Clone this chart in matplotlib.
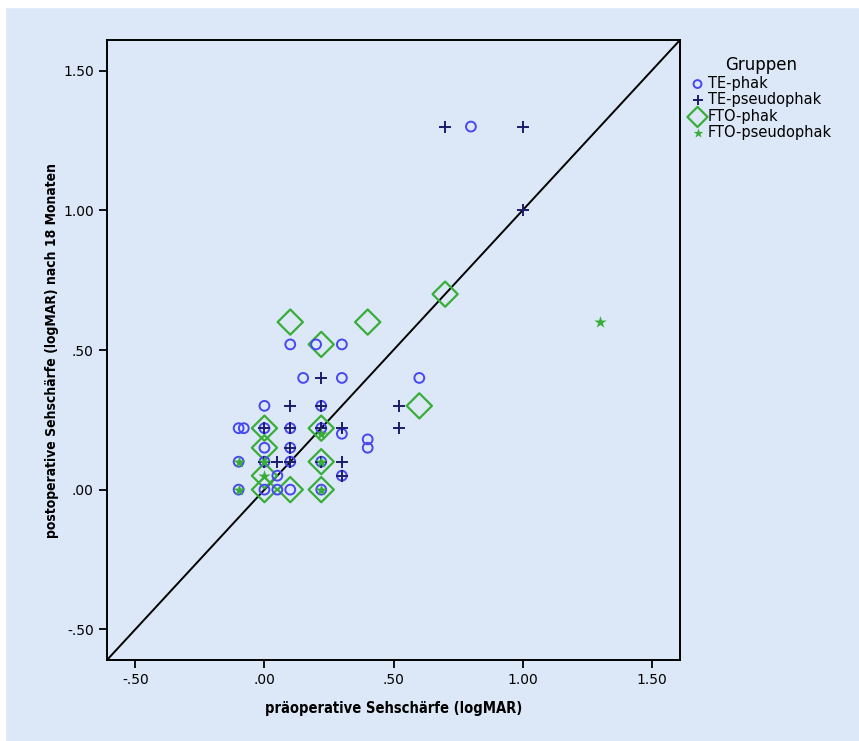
import matplotlib
matplotlib.use('Agg')
import matplotlib.pyplot as plt
from matplotlib.patches import Rectangle
from matplotlib.ticker import FuncFormatter

# TE-phak (open circles)
te_phak_x = [0.80, 0.10, 0.20, 0.30, 0.15, 0.30, 0.60, 0.00, 0.22,
             -0.10, -0.08, 0.00, 0.10, 0.22, 0.30, 0.40, 0.40, 0.00, 0.10,
             -0.10, 0.00, 0.10, 0.22, 0.30, 0.05,
             -0.10, 0.00, 0.05, 0.10, 0.22]
te_phak_y = [1.30, 0.52, 0.52, 0.52, 0.40, 0.40, 0.40, 0.30, 0.30,
             0.22, 0.22, 0.22, 0.22, 0.22, 0.20, 0.18, 0.15, 0.15, 0.15,
             0.10, 0.10, 0.10, 0.10, 0.05, 0.05,
             0.00, 0.00, 0.00, 0.00, 0.00]

# TE-pseudophak (plus)
te_pseudo_x = [0.70, 1.00, 1.00, 0.22, 0.10, 0.22, 0.52,
               0.00, 0.10, 0.22, 0.30, 0.52, 0.10,
               0.00, 0.05, 0.10, 0.22, 0.30, 0.30]
te_pseudo_y = [1.30, 1.30, 1.00, 0.40, 0.30, 0.30, 0.30,
               0.22, 0.22, 0.22, 0.22, 0.22, 0.15,
               0.10, 0.10, 0.10, 0.10, 0.10, 0.05]

# FTO-phak (open diamonds)
fto_phak_x = [0.70, 0.10, 0.40, 0.22, 0.60, 0.00, 0.22, 0.00, 0.22, 0.00, 0.00, 0.10, 0.22]
fto_phak_y = [0.70, 0.60, 0.60, 0.52, 0.30, 0.22, 0.22, 0.15, 0.10, 0.05, 0.00, 0.00, 0.00]

# FTO-pseudophak (stars)
fto_pseudo_x = [1.30, 0.22, -0.10, 0.00, 0.22, 0.00, -0.10, 0.22]
fto_pseudo_y = [0.60, 0.20, 0.10, 0.10, 0.10, 0.05, 0.00, 0.00]

ticks = [-0.5, 0.0, 0.5, 1.0, 1.5]
lims = (-0.61, 1.61)

bg = '#dce8f7'
blue = '#4848f0'
navy = '#1c1c6c'
green = '#38ae38'

fig = plt.figure(figsize=(8.59, 7.41), dpi=100, facecolor=bg)
# thin white margin at top/left as in the original export
fig.patches.append(Rectangle((0, 0), 5 / 859, 1, transform=fig.transFigure, color='white', zorder=0))
fig.patches.append(Rectangle((0, 1 - 7 / 741), 1, 7 / 741, transform=fig.transFigure, color='white', zorder=0))

ax = fig.add_axes([107 / 859, 81 / 741, 573 / 859, 620 / 741])
ax.set_facecolor(bg)

ax.plot(lims, lims, color='black', linewidth=1.4, zorder=1)

ax.scatter(te_phak_x, te_phak_y, s=50, facecolors='none', edgecolors=blue,
           linewidths=1.4, marker='o', label='TE-phak', zorder=3)
ax.scatter(te_pseudo_x, te_pseudo_y, s=70, color=navy, linewidths=1.4,
           marker='+', label='TE-pseudophak', zorder=4)
ax.scatter(fto_phak_x, fto_phak_y, s=165, facecolors='none', edgecolors=green,
           linewidths=1.6, marker='D', label='FTO-phak', zorder=2)
ax.scatter(fto_pseudo_x, fto_pseudo_y, s=85, color=green, linewidths=0,
           marker='*', label='FTO-pseudophak', zorder=5)

ax.set_xlim(lims)
ax.set_ylim(lims)
ax.set_xticks(ticks)
ax.set_yticks(ticks)


def fmt(v, pos):
    s = f'{v:.2f}'
    if s.startswith('0.'):
        s = s[1:]
    elif s.startswith('-0.'):
        s = '-' + s[2:]
    return s


ax.xaxis.set_major_formatter(FuncFormatter(fmt))
ax.yaxis.set_major_formatter(FuncFormatter(fmt))
ax.tick_params(direction='out', length=6, width=1.3, labelsize=10, colors='black')
for sp in ax.spines.values():
    sp.set_linewidth(1.4)

ax.set_xlabel('präoperative Sehschärfe (logMAR)', fontsize=10.5, fontweight='bold',
              fontstretch='condensed', family='DejaVu Sans', labelpad=10)
ax.set_ylabel('postoperative Sehschärfe (logMAR) nach 18 Monaten', fontsize=10,
              fontweight='bold', fontstretch='condensed', family='DejaVu Sans', labelpad=3)

leg = ax.legend(title='Gruppen', loc='upper left', bbox_to_anchor=(1.0, 0.99),
                frameon=False, fontsize=10.5, title_fontsize=12, handletextpad=0.2,
                handlelength=1.0, labelspacing=0.1, borderaxespad=0.3, markerscale=0.8)
leg._legend_box.align = 'left'
leg.get_title().set_position((35, 0))

fig.savefig('out.png', dpi=100, facecolor=bg)
